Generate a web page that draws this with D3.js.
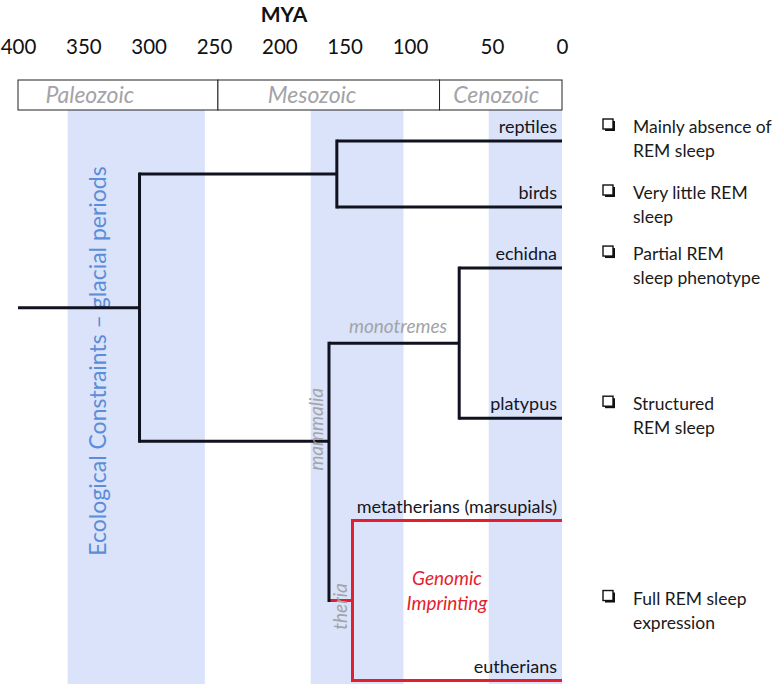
<!DOCTYPE html>
<html>
<head>
<meta charset="utf-8">
<script src="https://cdn.jsdelivr.net/npm/d3@7/dist/d3.min.js"></script>
<style>
  html, body { margin: 0; padding: 0; background: #fff; }
  svg { display: block; font-family: Lato, "Open Sans", sans-serif; }
</style>
</head>
<body>
<script>
// ---------------- data ----------------
const tickValues = [400, 350, 300, 250, 200, 150, 100, 50, 0];
const axisTitle = "MYA";

const eraNames = ["Paleozoic", "Mesozoic", "Cenozoic"];
const eraStart = [400, 247, 82];
const eraEnd = [247, 82, 0];
const eraLabelAt = [345, 175, 47];

// glacial periods (shaded bands), in MYA
const bandStart = [362, 176, 52];
const bandEnd = [257, 105, 0];
const bandLabel = "Ecological Constraints \u2013 glacial periods";

// tree nodes
const nodeIds     = ["root", "sauropsida", "mammalia", "monotremes", "theria",
                     "reptiles", "birds", "echidna", "platypus", "metatherians", "eutherians"];
const nodeParents = ["", "root", "root", "mammalia", "mammalia",
                     "sauropsida", "sauropsida", "monotremes", "monotremes", "theria", "theria"];
const nodeMya     = [307, 156, 162, 70, 144, 0, 0, 0, 0, 0, 0];
// vertical row index of tips (and of the mammalia node, which is off-centre)
const nodeRow     = [null, null, 10.1, null, null, 1, 3, 4.85, 9.4, 12.5, 17.35];
const nodeLabels  = ["", "", "", "", "", "reptiles", "birds", "echidna", "platypus",
                     "metatherians (marsupials)", "eutherians"];
const rootAge = 400;
const redClade = "theria";

const cladeLabels = ["monotremes", "mammalia", "theria"];
const annotationLines = ["Genomic", "Imprinting"];

// legend (REM sleep phenotypes), attached to nodes
const legendNodes = ["reptiles", "birds", "echidna", "platypus", "theria"];
const legendLines = [
  ["Mainly absence of", "REM sleep"],
  ["Very little REM", "sleep"],
  ["Partial REM", "sleep phenotype"],
  ["Structured", "REM sleep"],
  ["Full REM sleep", "expression"]
];

// ---------------- drawing ----------------
const W = 776, H = 685;
const svg = d3.select("body").append("svg").attr("width", W).attr("height", H);

const x = d3.scaleLinear().domain([400, 100, 50, 0]).range([18, 410, 492, 562]);
const y = d3.scaleLinear().domain([0, 1]).range([108, 141]);

const boxTop = 80, boxBottom = 110;
const black = "#10121f", red = "#e41f2d", grey = "#a3a3a8";

// shaded bands
svg.append("g").selectAll("rect").data(bandStart).join("rect")
  .attr("x", (d, i) => x(d))
  .attr("width", (d, i) => x(bandEnd[i]) - x(d))
  .attr("y", boxBottom)
  .attr("height", H - 1 - boxBottom)
  .attr("fill", "#dae3fa");

// title
svg.append("text").attr("x", 284).attr("y", 22)
  .attr("text-anchor", "middle").attr("font-weight", "bold")
  .attr("font-size", 21).attr("fill", "#111").text(axisTitle);

// axis tick labels
const axis = d3.axisTop(x).tickValues(tickValues).tickSize(0).tickPadding(0)
  .tickFormat(d3.format("d"));
const ag = svg.append("g").attr("transform", "translate(0,54)").call(axis);
ag.select(".domain").remove();
ag.selectAll("text").attr("font-size", 20.5).attr("font-family", "Lato, sans-serif").attr("fill", "#111");

// era boxes
const eg = svg.append("g");
eg.selectAll("rect").data(eraNames).join("rect")
  .attr("x", (d, i) => x(eraStart[i]))
  .attr("width", (d, i) => x(eraEnd[i]) - x(eraStart[i]))
  .attr("y", boxTop).attr("height", boxBottom - boxTop)
  .attr("fill", "#fff").attr("stroke", "#222").attr("stroke-width", 1);
eg.selectAll("text").data(eraNames).join("text")
  .attr("x", (d, i) => x(eraLabelAt[i]))
  .attr("y", 103)
  .attr("text-anchor", "middle").attr("font-style", "italic")
  .attr("font-size", 23).attr("fill", grey).text(d => d);

// band label
svg.append("text")
  .attr("transform", `translate(106,${361}) rotate(-90)`)
  .attr("text-anchor", "middle").attr("font-size", 23)
  .attr("fill", "#5b8dd8").text(bandLabel);

// tree
const table = nodeIds.map((id, i) => ({
  id, parent: nodeParents[i] || null, mya: nodeMya[i], row: nodeRow[i], label: nodeLabels[i]
}));
const root = d3.stratify().id(d => d.id).parentId(d => d.parent)(table);
root.eachAfter(n => {
  if (n.data.row != null) n.py = y(n.data.row);
  else n.py = d3.mean(n.children, c => c.py);
  n.px = x(n.data.mya);
});
root.each(n => {
  n.red = n.data.id === redClade || (n.parent && n.parent.red);
});

const tg = svg.append("g").attr("fill", "none").attr("stroke-width", 3);
// root stem
tg.append("line").attr("x1", x(rootAge)).attr("x2", root.px)
  .attr("y1", root.py).attr("y2", root.py).attr("stroke", black);
// horizontal branches
tg.selectAll("line.h").data(root.descendants().filter(n => n.parent)).join("line")
  .attr("class", "h")
  .attr("x1", n => n.parent.px).attr("x2", n => n.px)
  .attr("y1", n => n.py).attr("y2", n => n.py)
  .attr("stroke", n => n.red ? red : black);
// vertical connectors
tg.selectAll("line.v").data(root.descendants().filter(n => n.children)).join("line")
  .attr("class", "v")
  .attr("x1", n => n.px).attr("x2", n => n.px)
  .attr("y1", n => d3.min(n.children, c => c.py))
  .attr("y2", n => d3.max(n.children, c => c.py))
  .attr("stroke", n => n.red ? red : black)
  .attr("stroke-linecap", "square");

// tip labels
svg.append("g").selectAll("text").data(root.leaves()).join("text")
  .attr("x", n => n.px - 5).attr("y", n => n.py - 8)
  .attr("text-anchor", "end").attr("font-size", 18).attr("fill", "#15151f")
  .text(n => n.data.label);

// clade labels
const byId = id => root.find(n => n.data.id === id);
const mono = byId("monotremes"), mamm = byId("mammalia"), ther = byId("theria");
svg.append("text")
  .attr("x", (mono.parent.px + mono.px) / 2 + 4).attr("y", mono.py - 10)
  .attr("text-anchor", "middle").attr("font-style", "italic")
  .attr("font-size", 19).attr("fill", grey).text(cladeLabels[0]);
svg.append("text")
  .attr("transform", `translate(${mamm.px - 6},${mamm.py - 12}) rotate(-90)`)
  .attr("text-anchor", "middle").attr("font-style", "italic")
  .attr("font-size", 19).attr("fill", grey).text(cladeLabels[1]);
svg.append("text")
  .attr("transform", `translate(${ther.parent.px + 18},${ther.py + 6}) rotate(-90)`)
  .attr("text-anchor", "middle").attr("font-style", "italic")
  .attr("font-size", 19).attr("fill", grey).text(cladeLabels[2]);

// Genomic Imprinting
svg.append("g").selectAll("text").data(annotationLines).join("text")
  .attr("x", 447).attr("y", (d, i) => ther.py - 16 + i * 25)
  .attr("text-anchor", "middle").attr("font-style", "italic")
  .attr("font-size", 19).attr("fill", red).text(d => d);

// legend
const lg = svg.append("g");
legendNodes.forEach((id, i) => {
  const n = byId(id);
  const base = n.children ? n.py + 4 : n.py - 8;
  const g = lg.append("g").attr("transform", `translate(0,${base})`);
  // shadowed checkbox
  g.append("rect").attr("x", 605).attr("y", -12).attr("width", 10).attr("height", 10)
    .attr("fill", "#111");
  g.append("rect").attr("x", 603).attr("y", -14).attr("width", 10).attr("height", 10)
    .attr("fill", "#fff").attr("stroke", "#111").attr("stroke-width", 1.4);
  g.selectAll("text").data(legendLines[i]).join("text")
    .attr("x", 633).attr("y", (d, j) => j * 24)
    .attr("font-size", 17.5).attr("fill", "#1a1a1a").text(d => d);
});
</script>
</body>
</html>
